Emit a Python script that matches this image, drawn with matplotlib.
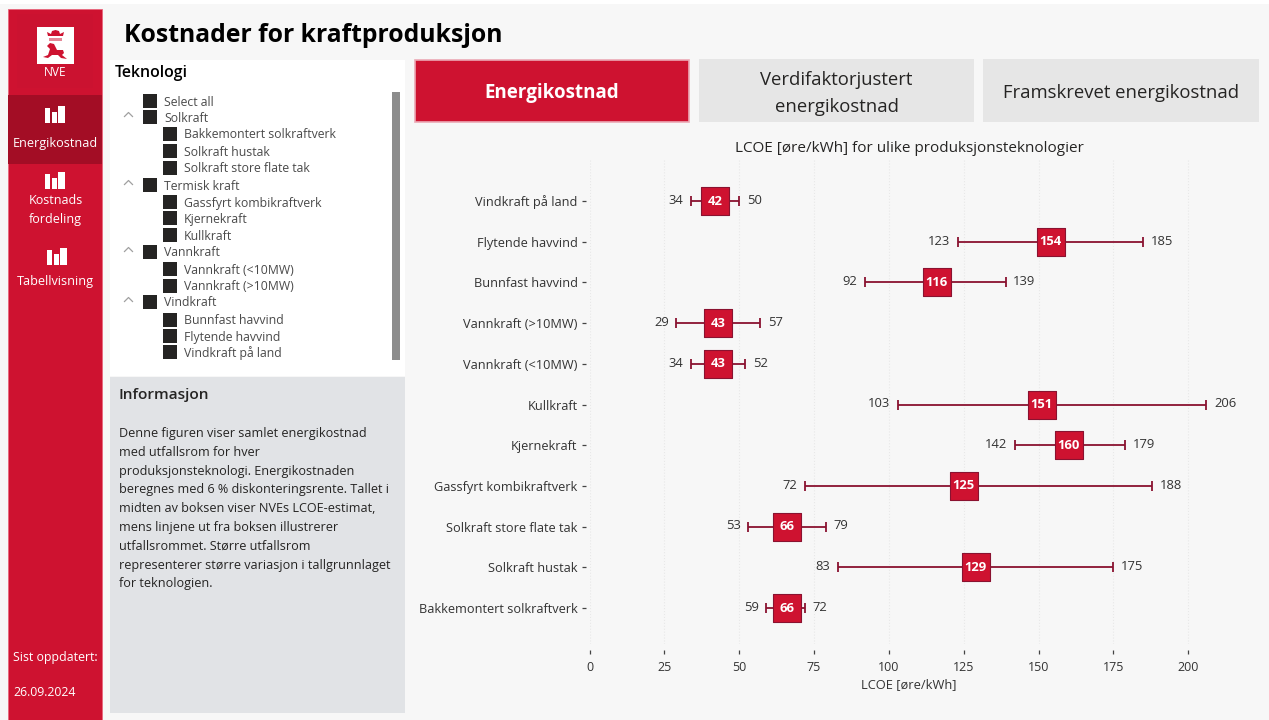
import matplotlib
matplotlib.use('Agg')
import matplotlib.pyplot as plt
from matplotlib.patches import Rectangle, Polygon

plt.rcParams['font.family'] = ['Open Sans', 'DejaVu Sans']

# chart values, top to bottom
technologies = ['Vindkraft på land', 'Flytende havvind', 'Bunnfast havvind', 'Vannkraft (>10MW)',
                'Vannkraft (<10MW)', 'Kullkraft', 'Kjernekraft', 'Gassfyrt kombikraftverk',
                'Solkraft store flate tak', 'Solkraft hustak', 'Bakkemontert solkraftverk']
lcoe_low = [34, 123, 92, 29, 34, 103, 142, 72, 53, 83, 59]
lcoe_mid = [42, 154, 116, 43, 43, 151, 160, 125, 66, 129, 66]
lcoe_high = [50, 185, 139, 57, 52, 206, 179, 188, 79, 175, 72]
x_ticks = [0, 25, 50, 75, 100, 125, 150, 175, 200]

# slicer list: (text, indent level)
slicer_items = [('Select all', 0), ('Solkraft', 0), ('Bakkemontert solkraftverk', 1), ('Solkraft hustak', 1),
                ('Solkraft store flate tak', 1), ('Termisk kraft', 0), ('Gassfyrt kombikraftverk', 1),
                ('Kjernekraft', 1), ('Kullkraft', 1), ('Vannkraft', 0), ('Vannkraft (<10MW)', 1),
                ('Vannkraft (>10MW)', 1), ('Vindkraft', 0), ('Bunnfast havvind', 1), ('Flytende havvind', 1),
                ('Vindkraft på land', 1)]
slicer_y = [101, 117, 134, 151, 168, 185, 202, 218, 235, 252, 269, 286, 302, 320, 336, 352]

info_lines = ['Denne figuren viser samlet energikostnad', 'med utfallsrom for hver',
              'produksjonsteknologi. Energikostnaden', 'beregnes med 6 % diskonteringsrente. Tallet i',
              'midten av boksen viser NVEs LCOE-estimat,', 'mens linjene ut fra boksen illustrerer',
              'utfallsrommet. Større utfallsrom', 'representerer større variasjon i tallgrunnlaget',
              'for teknologien.']

RED = '#CE1230'
DARK_RED = '#A30D25'
LINE_RED = '#8A1230'
TEXT = '#252423'
W, H = 1269, 720

fig = plt.figure(figsize=(W / 100, H / 100), dpi=100, facecolor='white')

# whole-page axes in pixel coordinates for the report furniture
ui = fig.add_axes([0, 0, 1, 1])
ui.set_xlim(0, W)
ui.set_ylim(H, 0)
ui.axis('off')


def box(x0, y0, x1, y1, color, **kw):
    ui.add_patch(Rectangle((x0, y0), x1 - x0, y1 - y0, facecolor=color, edgecolor=kw.pop('edge', 'none'), **kw))


def bars_icon(cx, cy):
    # little bar chart icon in the menu
    for dx, top, w in [(-11, -7, 5), (-4, -3, 5), (2, -9, 7)]:
        box(cx + dx, cy + top, cx + dx + w, cy + 8, 'white')


box(0, 4, W, H, '#F7F7F7')

# sidebar
box(8, 9, 102, H, RED, edge='#E8667C', linewidth=0.6)
box(17, 14, 93, 88, '#CB1230')
box(8, 95, 102, 164, DARK_RED)

# logo
box(37, 27, 74, 64, 'white')
ui.add_patch(Polygon([(43, 57), (48, 55), (50, 49), (47, 46), (50, 43), (54, 44), (57, 50), (63, 50), (64, 53),
                      (62, 55), (67, 59), (61, 58), (58, 55), (52, 55), (48, 58)],
                     facecolor=RED, edgecolor='none'))
ui.add_patch(Polygon([(48, 36), (47, 32), (51, 34), (52, 31), (55.5, 30), (59, 31), (60, 34), (64, 32), (63, 36)],
                     facecolor=RED, edgecolor='none'))
box(49, 38, 62, 41, '#E58797')
ui.text(55.5, 73, 'NVE', color='white', fontsize=8.6, ha='center', va='center')

bars_icon(56, 115)
ui.text(55.5, 143, 'Energikostnad', color='white', fontsize=9.1, ha='center', va='center')
bars_icon(56, 181)
ui.text(55.5, 201, 'Kostnads', color='white', fontsize=9, ha='center', va='center')
ui.text(55.5, 219, 'fordeling', color='white', fontsize=9, ha='center', va='center')
bars_icon(58, 257)
ui.text(55.5, 281, 'Tabellvisning', color='white', fontsize=9.1, ha='center', va='center')
ui.text(13, 657, 'Sist oppdatert:', color='white', fontsize=8.9, ha='left', va='center')
ui.text(13, 692, '26.09.2024', color='white', fontsize=8.8, ha='left', va='center')

# title
ui.text(124, 35, 'Kostnader for kraftproduksjon', color='black', fontsize=17.8, fontweight='bold',
        ha='left', va='center')

# slicer
box(110, 60, 405, 376, 'white')
ui.text(115, 73, 'Teknologi', color='black', fontsize=11.4, fontweight='semibold', ha='left', va='center')
for (label, level), y in zip(slicer_items, slicer_y):
    bx = 143 + 20 * level
    box(bx, y - 7, bx + 14, y + 7, TEXT)
    ui.text(bx + 21, y + 1, label, color='#4A4A4A', fontsize=8.8, ha='left', va='center')
    if label in ('Solkraft', 'Termisk kraft', 'Vannkraft', 'Vindkraft'):
        ui.plot([124.5, 128.5, 132.5], [y - 0.5, y - 4.5, y - 0.5], color='#A0A0A0', lw=0.9)
box(392, 92, 400, 360, '#8C8C8C')

# info panel
box(110, 377, 405, 713, '#E1E3E6')
ui.text(119, 395, 'Informasjon', color=TEXT, fontsize=11.1, fontweight='semibold', ha='left', va='center')
for i, line in enumerate(info_lines):
    ui.text(119, 433.5 + i * 18.8, line, color=TEXT, fontsize=9.05, ha='left', va='center')

# tab buttons
box(414.5, 59.5, 688.5, 121.5, RED, edge='#EBA9B5', linewidth=1.2)
ui.text(551.5, 93, 'Energikostnad', color='white', fontsize=13.5, fontweight='bold', ha='center', va='center')
box(699, 59, 974, 122, '#E6E6E6')
ui.text(836.5, 80, 'Verdifaktorjustert', color=TEXT, fontsize=13.3, ha='center', va='center')
ui.text(836.5, 107, 'energikostnad', color=TEXT, fontsize=13.3, ha='center', va='center')
box(983, 59, 1259, 122, '#E6E6E6')
ui.text(1121, 93, 'Framskrevet energikostnad', color=TEXT, fontsize=13.3, ha='center', va='center')

# chart: x=0 at px 589.5, x=200 at px 1188; first row at px 201, last at px 608
left, right, top, bottom = 589.5, 1210, 160, 644
ax = fig.add_axes([left / W, 1 - bottom / H, (right - left) / W, (bottom - top) / H])
ax.patch.set_alpha(0)

# ticks sit a little away from the plot area (this resets tick styling, so do it first)
for s in ax.spines.values():
    s.set_visible(False)
ax.spines['left'].set_position(('outward', 2.6))
ax.spines['bottom'].set_position(('outward', 4.3))

ypos = list(range(len(technologies)))
xerr = [[m - l for m, l in zip(lcoe_mid, lcoe_low)], [h - m for m, h in zip(lcoe_mid, lcoe_high)]]
ax.errorbar(lcoe_mid, ypos, xerr=xerr, fmt='none', ecolor=LINE_RED, elinewidth=1.3, capsize=3.6,
            capthick=1.3, zorder=2)
ax.scatter(lcoe_mid, ypos, marker='s', s=20 ** 2, color=RED, edgecolor=LINE_RED, linewidth=0.8, zorder=3)

for y, lo, mid, hi in zip(ypos, lcoe_low, lcoe_mid, lcoe_high):
    ax.text(mid, y, str(mid), color='white', fontsize=9.4, fontweight='bold', ha='center', va='center', zorder=4)
    ax.annotate(str(lo), (lo, y), xytext=(-5.5, 0.5), textcoords='offset points', color='#333333', fontsize=9.4,
                ha='right', va='center')
    ax.annotate(str(hi), (hi, y), xytext=(5.5, 0.5), textcoords='offset points', color='#333333', fontsize=9.4,
                ha='left', va='center')

ax.set_yticks(ypos)
ax.set_yticklabels(technologies, fontsize=9.15, color='#333333')
ax.set_xticks(x_ticks)
ax.set_xticklabels(x_ticks, fontsize=9, color='#333333')
ax.set_xlim(0, (right - left) / 2.994)
row_h = (608 - 201) / 10
ax.set_ylim((bottom - 201) / row_h, (top - 201) / row_h)
ax.tick_params(axis='y', length=3, width=0.9, color='#444444', pad=3)
ax.tick_params(axis='x', length=3, width=0.9, color='#444444', pad=5)
ax.grid(axis='x', color='#E8E8E8', lw=0.8, linestyle=':')
ax.set_axisbelow(True)

ui.text(909, 148, 'LCOE [øre/kWh] for ulike produksjonsteknologier', color=TEXT, fontsize=11, ha='center', va='center')
ui.text(908.5, 685, 'LCOE [øre/kWh]', color='#333333', fontsize=9.3, ha='center', va='center')

fig.savefig('out.png', dpi=100)
